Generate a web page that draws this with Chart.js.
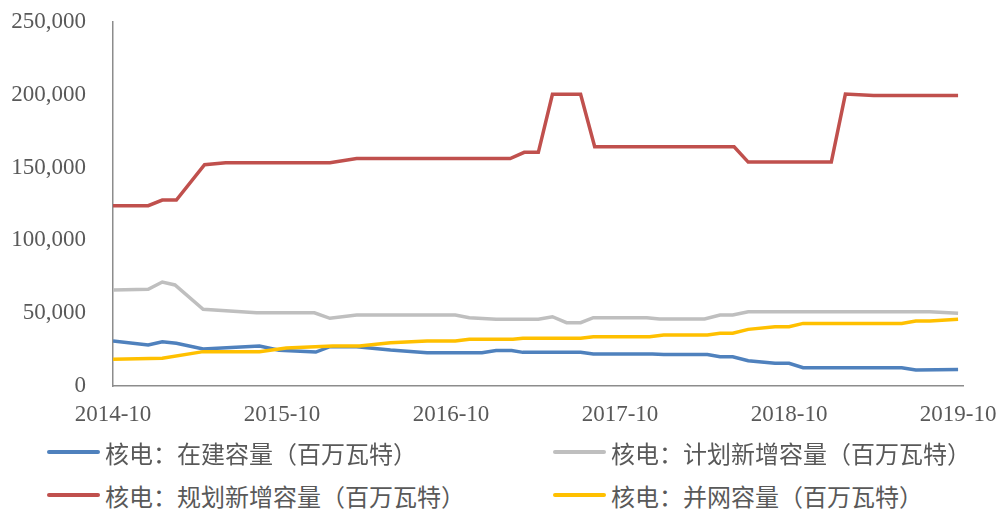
<!DOCTYPE html>
<html>
<head>
<meta charset="utf-8">
<script src="https://cdn.jsdelivr.net/npm/chart.js"></script>
<style>
  body { margin: 0; background: #fff; }
  #wrap { position: relative; width: 1000px; height: 513px; }
  #legend { position: absolute; left: 0; top: 434px; width: 1000px; }
  .item { position: absolute; display: flex; align-items: center; height: 26px;
          font: 24px "Liberation Serif", "Noto Sans CJK SC", serif; color: #595959; }
  .swatch { width: 53px; height: 4px; margin-right: 5px; border-radius: 2px; }
</style>
</head>
<body>
<div id="wrap">
  <canvas id="nuclear" width="1000" height="440"></canvas>
  <div id="legend"></div>
</div>
<script>
// months counted from 2014-10
var seriesNames = ['核电：在建容量（百万瓦特）', '核电：计划新增容量（百万瓦特）',
                   '核电：规划新增容量（百万瓦特）', '核电：并网容量（百万瓦特）'];
var seriesColors = ['#4F81BD', '#BFBFBF', '#C0504D', '#FFC000'];

var buildMonths = [0, 2.5, 3.5, 4.5, 6.4, 10.4, 11.8, 14.4, 15.4, 17.3, 19.7, 22.3, 26.2, 27.2, 28.3, 29.1,
                   33.2, 34.1, 38.3, 39.1, 42.2, 43.1, 44, 45.1, 47, 48, 49, 56, 57, 60];
var buildValues = [30900, 28200, 30400, 29300, 25400, 27500, 24600, 23300, 27000, 27000, 24700, 22900, 22900, 24300, 24300, 23100,
                   23100, 22000, 22000, 21700, 21700, 20100, 20100, 17400, 15600, 15600, 12600, 12600, 11000, 11300];

var planMonths = [0, 2.5, 3.5, 4.4, 6.4, 10.2, 14.3, 15.4, 17.3, 24.3, 25.3, 27.2, 30.2, 31.2, 32.2, 33.2,
                  34.1, 37.9, 38.8, 42, 43.1, 44, 45.1, 58, 60];
var planValues = [66000, 66400, 71400, 69400, 52700, 50300, 50300, 46500, 48800, 48800, 46900, 45800, 45800, 47600, 43500, 43500,
                  46900, 46900, 46000, 46000, 48800, 48800, 51000, 51000, 49900];

var programMonths = [0, 2.5, 3.5, 4.5, 6.5, 8, 15.4, 17.3, 28.2, 29.2, 30.2, 31.2, 33.2, 34.2, 44.1, 45.1, 51, 52, 54, 60];
var programValues = [123800, 123800, 127700, 127700, 152000, 153400, 153400, 156200, 156200, 160500, 160500, 200300,
                     200300, 164300, 164300, 153800, 153800, 200500, 199600, 199600];

var gridMonths = [0, 3.5, 6.4, 10.4, 12.3, 15.6, 17.5, 19.7, 22.3, 24.3, 25.3, 28.4, 29.1, 33.2, 34.1, 38.1,
                  39.1, 42.2, 43.1, 44, 45.1, 47, 48, 49, 56, 57, 58, 60];
var gridValues = [18300, 19000, 23600, 23600, 26100, 27500, 27500, 29700, 30900, 30900, 32100, 32100, 32800, 32800, 33900, 33900,
                  35000, 35000, 36200, 36200, 38900, 40700, 40700, 43000, 43000, 44600, 44600, 45800];

var tickMonths = [0, 12, 24, 36, 48, 60];

function points(months, values) {
    return months.map(function (m, i) { return { x: m, y: values[i] }; });
}
var allMonths = [buildMonths, planMonths, programMonths, gridMonths];
var allValues = [buildValues, planValues, programValues, gridValues];

var datasets = seriesNames.map(function (name, i) {
    return {
        label: name,
        data: points(allMonths[i], allValues[i]),
        borderColor: seriesColors[i],
        backgroundColor: seriesColors[i],
        borderWidth: 3.5,
        pointRadius: 0,
        tension: 0,
        order: 3 - i
    };
});

var htmlLegend = {
    id: 'htmlLegend',
    afterUpdate: function (chart) {
        var box = document.getElementById('legend');
        box.innerHTML = '';
        chart.data.datasets.forEach(function (ds, i) {
            var item = document.createElement('div');
            item.className = 'item';
            item.style.left = (i % 2 === 0 ? 47 : 553) + 'px';
            item.style.top = (i < 2 ? 5 : 48) + 'px';
            var sw = document.createElement('span');
            sw.className = 'swatch';
            sw.style.background = ds.borderColor;
            var txt = document.createElement('span');
            txt.textContent = ds.label;
            item.appendChild(sw);
            item.appendChild(txt);
            box.appendChild(item);
        });
    }
};

var tickFont = { family: 'Liberation Serif', size: 23 };
var ctx = document.getElementById('nuclear');
var chart = new Chart(ctx, {
    type: 'line',
    data: { datasets: datasets },
    options: {
        responsive: false,
        animation: false,
        layout: { padding: { top: 22, right: 37, left: 0, bottom: 0 } },
        plugins: { legend: { display: false }, tooltip: { enabled: false } },
        scales: {
            x: {
                type: 'linear',
                min: 0,
                max: 60.35,
                afterBuildTicks: function (s) { s.ticks = tickMonths.map(function (v) { return { value: v }; }); },
                afterFit: function (s) { s.height = 54; s.paddingRight = 0; s.paddingLeft = 0; },
                grid: { display: false, drawTicks: false },
                border: { display: true, color: '#8c8c8c', width: 1.5 },
                ticks: {
                    font: tickFont, color: '#595959', padding: 15, maxRotation: 0, autoSkip: false,
                    callback: function (v) { return (2014 + v / 12) + '-10'; }
                }
            },
            y: {
                min: 0,
                max: 250000,
                afterFit: function (s) { s.width = 113; s.paddingTop = 0; },
                grid: { display: false, drawTicks: true, tickLength: 27 },
                border: { display: true, color: '#8c8c8c', width: 1.5 },
                ticks: {
                    stepSize: 50000, font: tickFont, color: '#595959', padding: 0,
                    callback: function (v) { return v.toLocaleString('en-US'); }
                }
            }
        }
    },
    plugins: [htmlLegend]
});
</script>
</body>
</html>
